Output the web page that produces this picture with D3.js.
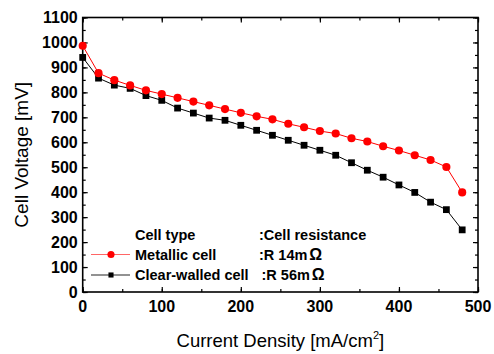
<!DOCTYPE html>
<html>
<head>
<meta charset="utf-8">
<script src="https://cdn.jsdelivr.net/npm/d3@7"></script>
<style>
    body { margin: 0; background: #fff; }
    svg { display: block; font-family: 'Liberation Sans', Arial, sans-serif; }
</style>
</head>
<body>
<svg id="chart"></svg>
<script>
// data
const currentDensity = [0, 20, 40, 60, 80, 100, 120, 140, 160, 180, 200, 220, 240,
    260, 280, 300, 320, 340, 360, 380, 400, 420, 440, 460, 480];
const metallicVoltage = [987, 877, 849, 828, 808, 793, 778, 763, 748, 733, 718, 704, 692,
    674, 660, 645, 635, 616, 603, 584, 567, 548, 529, 501, 399];
const clearWalledVoltage = [940, 857, 829, 816, 787, 768, 737, 717, 697, 688, 668, 648, 628,
    608, 588, 568, 548, 518, 488, 460, 429, 399, 360, 330, 249];
const xTicks = [0, 100, 200, 300, 400, 500];
const yTicks = [0, 100, 200, 300, 400, 500, 600, 700, 800, 900, 1000, 1100];
const legendHeader = ['Cell type', ':Cell resistance'];
const seriesNames = ['Metallic cell', 'Clear-walled cell'];
const seriesResistance = [':R 14m', ':R 56m'];

const width = 494;
const height = 354;
const margin = {
    top: 17.5,
    right: 16,
    bottom: 62,
    left: 82.7
};

const svg = d3.select('#chart')
    .attr('width', width)
    .attr('height', height);

const x = d3.scaleLinear()
    .domain([0, 500])
    .range([margin.left, width - margin.right]);

const y = d3.scaleLinear()
    .domain([0, 1100])
    .range([height - margin.bottom, margin.top]);

const minorX = d3.range(0, 501, 50);
const minorY = d3.range(0, 1101, 50);

// inward ticks on all four sides
const frame = svg.append('g').attr('class', 'frame');

function tickAxis(axisFn, scale, values, size, translate) {
    frame.append('g')
        .attr('transform', translate)
        .call(axisFn(scale).tickValues(values).tickSize(size).tickFormat(''))
        .call(g => g.select('.domain').remove())
        .selectAll('line')
            .attr('stroke', '#000')
            .attr('stroke-width', 1.2);
}

const x0 = margin.left, x1 = width - margin.right;
const y0 = height - margin.bottom, y1 = margin.top;

tickAxis(d3.axisTop, x, minorX, 3, `translate(0,${y0})`);
tickAxis(d3.axisTop, x, xTicks, 5, `translate(0,${y0})`);
tickAxis(d3.axisBottom, x, minorX, 3, `translate(0,${y1})`);
tickAxis(d3.axisBottom, x, xTicks, 5, `translate(0,${y1})`);
tickAxis(d3.axisRight, y, minorY, 3, `translate(${x0},0)`);
tickAxis(d3.axisRight, y, yTicks, 5, `translate(${x0},0)`);
tickAxis(d3.axisLeft, y, minorY, 3, `translate(${x1},0)`);
tickAxis(d3.axisLeft, y, yTicks, 5, `translate(${x1},0)`);

frame.append('rect')
    .attr('x', x0)
    .attr('y', y1)
    .attr('width', x1 - x0)
    .attr('height', y0 - y1)
    .attr('fill', 'none')
    .attr('stroke', '#000')
    .attr('stroke-width', 1.6);

// tick labels
svg.append('g')
    .selectAll('text')
    .data(xTicks)
    .enter()
    .append('text')
        .attr('x', d => x(d))
        .attr('y', y0 + 19.5)
        .attr('text-anchor', 'middle')
        .attr('font-size', 16)
        .attr('font-weight', 'bold')
        .text(d => d);

svg.append('g')
    .selectAll('text')
    .data(yTicks)
    .enter()
    .append('text')
        .attr('x', x0 - 5)
        .attr('y', d => y(d))
        .attr('dy', '0.36em')
        .attr('text-anchor', 'end')
        .attr('font-size', 16)
        .attr('font-weight', 'bold')
        .text(d => d);

// axis titles
const xTitle = svg.append('text')
    .attr('x', (x0 + x1) / 2)
    .attr('y', 347)
    .attr('text-anchor', 'middle')
    .attr('font-size', 18.5)
    .text('Current Density [mA/cm');
xTitle.append('tspan')
    .attr('font-size', 11)
    .attr('dy', -8)
    .text('2');
xTitle.append('tspan')
    .attr('dy', 8)
    .text(']');

svg.append('text')
    .attr('transform', `translate(28,${(y0 + y1) / 2}) rotate(-90)`)
    .attr('text-anchor', 'middle')
    .attr('font-size', 19)
    .text('Cell Voltage [mV]');

// series
const series = [
    { name: seriesNames[0], values: metallicVoltage, color: '#ff0000', shape: d3.symbolCircle, size: 52 },
    { name: seriesNames[1], values: clearWalledVoltage, color: '#000000', shape: d3.symbolSquare, size: 46 }
];

const line = d3.line()
    .x(d => x(d[0]))
    .y(d => y(d[1]));

series.slice().reverse().forEach(s => {
    const pts = currentDensity.map((c, i) => [c, s.values[i]]);
    const g = svg.append('g').attr('class', 'series');

    g.append('path')
        .datum(pts)
        .attr('d', line)
        .attr('fill', 'none')
        .attr('stroke', s.color)
        .attr('stroke-width', 1);

    g.selectAll('path.mark')
        .data(pts)
        .enter()
        .append('path')
            .attr('class', 'mark')
            .attr('transform', d => `translate(${x(d[0])},${y(d[1])})`)
            .attr('d', d3.symbol().type(s.shape).size(s.size))
            .attr('fill', s.color);
});

// legend
const legend = svg.append('g')
    .attr('font-size', 14.5)
    .attr('font-weight', 'bold');

legend.append('text')
    .attr('x', 135)
    .attr('y', 240)
    .text(legendHeader[0]);
legend.append('text')
    .attr('x', 259)
    .attr('y', 240)
    .text(legendHeader[1]);

const rowY = [254.5, 275];
const resX = [259, 261.5];

series.forEach((s, i) => {
    legend.append('line')
        .attr('x1', 91)
        .attr('x2', 130)
        .attr('y1', rowY[i])
        .attr('y2', rowY[i])
        .attr('stroke', s.color)
        .attr('stroke-opacity', i === 0 ? 0.6 : 0.85)
        .attr('stroke-width', 1.2);
    legend.append('path')
        .attr('transform', `translate(111,${rowY[i]})`)
        .attr('d', d3.symbol().type(s.shape).size(i === 0 ? 40 : 26))
        .attr('fill', s.color);
    legend.append('text')
        .attr('x', 135)
        .attr('y', rowY[i] + 5)
        .text(s.name);
    const r = legend.append('text')
        .attr('x', resX[i])
        .attr('y', rowY[i] + 5)
        .text(seriesResistance[i]);
    r.append('tspan')
        .attr('dx', 2)
        .attr('font-size', 16)
        .text('Ω');
});
</script>
</body>
</html>
